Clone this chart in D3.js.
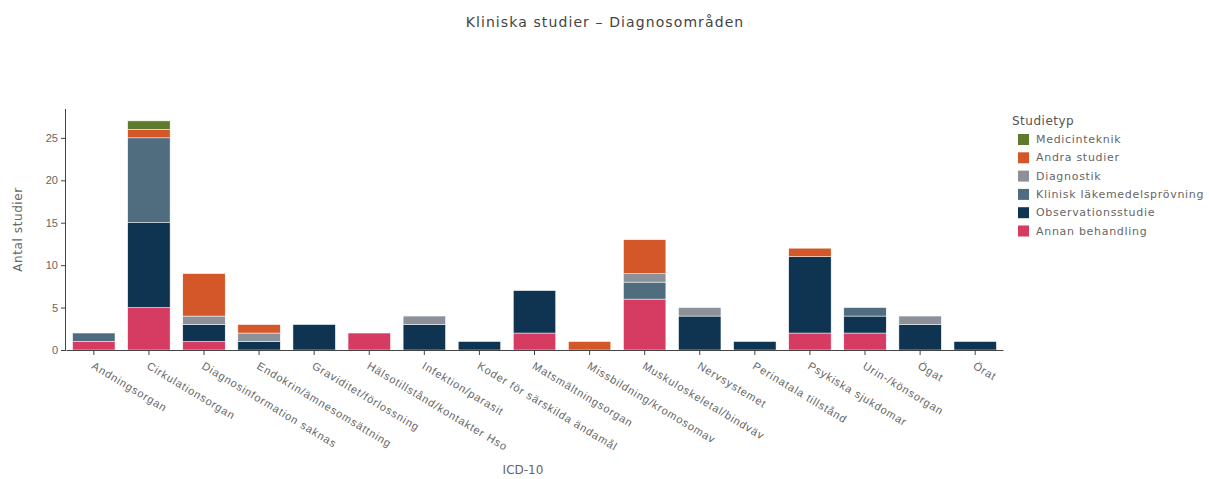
<!DOCTYPE html>
<html>
<head>
<meta charset="utf-8">
<script src="https://cdn.jsdelivr.net/npm/d3@7"></script>
<style>
  body { margin: 0; background: #fff; }
  svg { font-family: "DejaVu Sans", sans-serif; }
  .axis text { fill: #666; font-size: 11px; }
  .axis path, .axis line { stroke: #444; }
</style>
</head>
<body>
<svg id="chart" width="1209" height="479"></svg>
<script>
// ICD-10 categories
const categories = [
  "Andningsorgan", "Cirkulationsorgan", "Diagnosinformation saknas",
  "Endokrin/ämnesomsättning", "Graviditet/förlossning", "Hälsotillstånd/kontakter Hso",
  "Infektion/parasit", "Koder för särskilda ändamål", "Matsmältningsorgan",
  "Missbildning/kromosomav", "Muskuloskeletal/bindväv", "Nervsystemet",
  "Perinatala tillstånd", "Psykiska sjukdomar", "Urin-/könsorgan", "Ögat", "Örat"
]

// study types, bottom of stack first
const studyTypes = ["Annan behandling", "Observationsstudie", "Klinisk läkemedelsprövning",
  "Diagnostik", "Andra studier", "Medicinteknik"]
const colors = ["#d63c62", "#0f3451", "#4f6d7e", "#8b9099", "#d4572a", "#5f7a2c"]

// counts per category, one array per study type
const annanBehandling   = [1, 5, 1, 0, 0, 2, 0, 0, 2, 0, 6, 0, 0, 2, 2, 0, 0]
const observationsstudie = [0, 10, 2, 1, 3, 0, 3, 1, 5, 0, 0, 4, 1, 9, 2, 3, 1]
const kliniskLakemedel  = [1, 10, 0, 0, 0, 0, 0, 0, 0, 0, 2, 0, 0, 0, 1, 0, 0]
const diagnostik        = [0, 0, 1, 1, 0, 0, 1, 0, 0, 0, 1, 1, 0, 0, 0, 1, 0]
const andraStudier      = [0, 1, 5, 1, 0, 0, 0, 0, 0, 1, 4, 0, 0, 1, 0, 0, 0]
const medicinteknik     = [0, 1, 0, 0, 0, 0, 0, 0, 0, 0, 0, 0, 0, 0, 0, 0, 0]

const yTicks = [0, 5, 10, 15, 20, 25]

const series = [annanBehandling, observationsstudie, kliniskLakemedel, diagnostik, andraStudier, medicinteknik]

// table for d3.stack
const table = categories.map((c, i) => {
  const row = { category: c }
  studyTypes.forEach((t, k) => { row[t] = series[k][i] })
  return row
})

const svg = d3.select("#chart")
const margin = { top: 109, left: 66, right: 206, bottom: 129 }
const width = 1209 - margin.left - margin.right
const height = 479 - margin.top - margin.bottom

const g = svg.append("g").attr("transform", `translate(${margin.left},${margin.top})`)

const x = d3.scaleBand().domain(categories).range([0, width]).paddingInner(0.23).paddingOuter(0.12)
const y = d3.scaleLinear().domain([0, 28.4]).range([height, 0])
const color = d3.scaleOrdinal().domain(studyTypes).range(colors)

const stacked = d3.stack().keys(studyTypes)(table)

g.selectAll(".layer")
  .data(stacked)
  .join("g")
  .attr("class", "layer")
  .attr("fill", d => color(d.key))
  .selectAll("rect")
  .data(d => d)
  .join("rect")
  .attr("x", d => x(d.data.category))
  .attr("y", d => y(d[1]))
  .attr("width", x.bandwidth())
  .attr("height", d => y(d[0]) - y(d[1]))
  .attr("stroke", "#fff")
  .attr("stroke-width", d => (d[1] - d[0]) > 0 ? 0.5 : 0)

// axes
const yAxis = g.append("g")
  .attr("class", "axis")
  .call(d3.axisLeft(y).tickValues(yTicks).tickSize(5).tickPadding(3))
yAxis.select(".domain").attr("d", `M-0.5,${height}V0`)

const xAxis = g.append("g")
  .attr("class", "axis")
  .attr("transform", `translate(0,${height})`)
  .call(d3.axisBottom(x).tickSize(5).tickSizeOuter(0))
xAxis.selectAll("text")
  .attr("text-anchor", "start")
  .attr("letter-spacing", "0.9px")
  .attr("dy", 0)
  .attr("y", 0)
  .attr("transform", "translate(-3,18) rotate(31)")

// titles
svg.append("text")
  .attr("x", 605)
  .attr("y", 27)
  .attr("text-anchor", "middle")
  .attr("fill", "#444")
  .attr("font-size", 14)
  .attr("letter-spacing", "1.1px")
  .text("Kliniska studier – Diagnosområden")

svg.append("text")
  .attr("transform", `translate(22,${margin.top + height / 2}) rotate(-90)`)
  .attr("text-anchor", "middle")
  .attr("fill", "#666")
  .attr("font-size", 12)
  .attr("letter-spacing", "0.6px")
  .text("Antal studier")

svg.append("text")
  .attr("x", 523)
  .attr("y", 474)
  .attr("text-anchor", "middle")
  .attr("fill", "#666")
  .attr("font-size", 12)
  .text("ICD-10")

// legend, top item is last in stack
const legend = svg.append("g").attr("transform", "translate(1012,121)")
legend.append("text")
  .attr("x", 0).attr("y", 4)
  .attr("fill", "#555")
  .attr("font-size", 12)
  .attr("letter-spacing", "0.5px")
  .text("Studietyp")

const legendItems = studyTypes.slice().reverse()
const li = legend.selectAll(".item")
  .data(legendItems)
  .join("g")
  .attr("class", "item")
  .attr("transform", (d, i) => `translate(0,${18 + i * 18.3})`)
li.append("rect")
  .attr("x", 6).attr("y", -5)
  .attr("width", 11).attr("height", 11)
  .attr("fill", d => color(d))
li.append("text")
  .attr("x", 24).attr("y", 4)
  .attr("fill", "#666")
  .attr("font-size", 11)
  .attr("letter-spacing", "0.7px")
  .text(d => d)
</script>
</body>
</html>
